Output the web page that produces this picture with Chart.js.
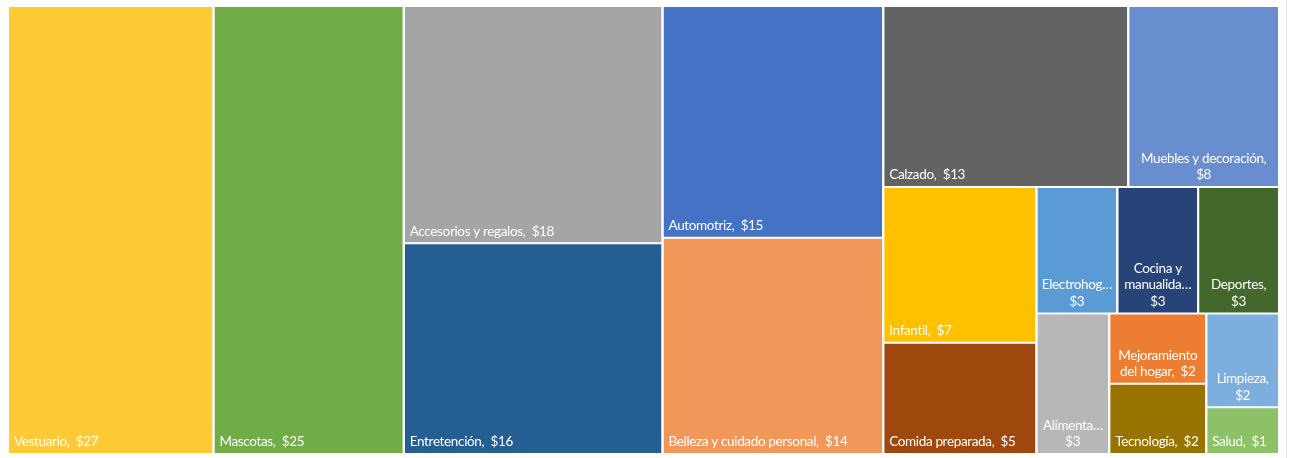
<!DOCTYPE html>
<html>
<head>
<meta charset="utf-8">
<script src="https://cdn.jsdelivr.net/npm/chart.js@4.4.1/dist/chart.umd.min.js"></script>
<style>
  html, body { margin: 0; padding: 0; background: #fff; }
  #wrap { position: relative; width: 1290px; height: 458px; }
  #frame { position: absolute; left: 1286px; top: 0; width: 1px; height: 458px; background: #e4e4e4; }
</style>
</head>
<body>
<div id="wrap">
  <canvas id="treemap"></canvas>
  <div id="frame"></div>
</div>
<script>
// categories in the order Excel laid them out (largest first)
const categories = ['Vestuario', 'Mascotas', 'Accesorios y regalos', 'Entretención', 'Automotriz',
  'Belleza y cuidado personal', 'Calzado', 'Muebles y decoración', 'Infantil', 'Comida preparada',
  'Electrohogar', 'Cocina y manualidades', 'Deportes', 'Alimentación', 'Mejoramiento del hogar',
  'Tecnología', 'Limpieza', 'Salud'];
const values = [27, 25, 18, 16, 15, 14, 13, 8, 7, 5, 3, 3, 3, 3, 2, 2, 2, 1];
const colors = ['#FFCA33', '#70AD47', '#A5A5A5', '#255E91', '#4472C4', '#F1975A', '#636363', '#698ED0',
  '#FFC000', '#9E480E', '#5B9BD5', '#264478', '#43682B', '#B7B7B7', '#ED7D31', '#997300', '#7CAFDD', '#8CC168'];

const W = 1271, H = 448;   // plot units (1 unit = 1 px)
const GAP = 1;
const FONT = '13.5px Lato';

// strip layout: fill a strip along the short side while the smallest cell stays reasonably square
function layoutCells(vals, x, y, w, h) {
  const cells = [];
  let i = 0;
  while (i < vals.length) {
    const rest = vals.slice(i).reduce((a, b) => a + b, 0);
    const unit = (w * h) / rest;
    const vertical = h <= w;
    const side = vertical ? h : w;
    let j = i + 1;
    while (j < vals.length) {
      const part = vals.slice(i, j + 1);
      const s = part.reduce((a, b) => a + b, 0);
      const thick = s * unit / side;
      const minLen = side * Math.min(...part) / s;
      if (minLen / thick < 0.6) break;
      j++;
    }
    const part = vals.slice(i, j);
    const s = part.reduce((a, b) => a + b, 0);
    const thick = s * unit / side;
    let pos = 0;
    part.forEach((v, k) => {
      const len = side * v / s;
      if (vertical) cells.push({ idx: i + k, x0: x, x1: x + thick, y0: y + pos, y1: y + pos + len });
      else cells.push({ idx: i + k, x0: x + pos, x1: x + pos + len, y0: y, y1: y + thick });
      pos += len;
    });
    if (vertical) { x += thick; w -= thick; } else { y += thick; h -= thick; }
    i = j;
  }
  return cells;
}

const cells = layoutCells(values, 0, 0, W, H);

const datasets = cells.map(c => ({
  label: categories[c.idx],
  data: [{ x: c.x0 + GAP, y: c.y0 + GAP }, { x: c.x1 - GAP, y: c.y0 + GAP }],
  fill: { value: c.y1 - GAP },
  backgroundColor: colors[c.idx],
  borderColor: 'transparent',
  borderWidth: 0,
  pointRadius: 0,
  tension: 0,
}));

function truncate(ctx, word, maxW) {
  let w = word;
  while (w.length > 1 && ctx.measureText(w + '…').width > maxW) w = w.slice(0, -1);
  return w + '…';
}

function wrapLabel(ctx, name, val, maxW) {
  const full = name + ',  $' + val;
  if (ctx.measureText(full).width <= maxW) return { lines: [full], single: true };
  const words = (name + ',').split(' ').concat(['$' + val]);
  const lines = [];
  let cur = '';
  words.forEach((word, k) => {
    const sep = k === words.length - 1 ? '  ' : ' ';
    let wd = word;
    if (ctx.measureText(wd).width > maxW) wd = truncate(ctx, wd, maxW);
    const t = cur ? cur + sep + wd : wd;
    if (ctx.measureText(t).width <= maxW) cur = t;
    else { if (cur) lines.push(cur); cur = wd; }
  });
  if (cur) lines.push(cur);
  return { lines, single: false };
}

const labelPlugin = {
  id: 'cellLabels',
  afterDatasetsDraw(chart) {
    const { ctx, scales: { x, y } } = chart;
    ctx.save();
    ctx.font = FONT;
    ctx.letterSpacing = '-0.35px';
    ctx.fillStyle = '#ffffff';
    ctx.textBaseline = 'middle';
    const PAD = 5, LH = 16.5;
    cells.forEach(c => {
      const left = x.getPixelForValue(c.x0 + GAP), right = x.getPixelForValue(c.x1 - GAP);
      const bottom = y.getPixelForValue(c.y1 - GAP);
      const lab = wrapLabel(ctx, categories[c.idx], values[c.idx], right - left - 8);
      const n = lab.lines.length;
      lab.lines.forEach((ln, k) => {
        const cy = bottom - 11 - (n - 1 - k) * LH;
        if (lab.single) { ctx.textAlign = 'left'; ctx.fillText(ln, left + PAD, cy); }
        else { ctx.textAlign = 'center'; ctx.fillText(ln, (left + right) / 2, cy); }
      });
    });
    ctx.restore();
  }
};

new Chart(document.getElementById('treemap'), {
  type: 'line',
  data: { datasets },
  options: {
    responsive: true,
    maintainAspectRatio: false,
    animation: false,
    layout: { padding: { left: 8, right: 11, top: 6, bottom: 4 } },
    scales: {
      x: { type: 'linear', min: 0, max: W, display: false },
      y: { type: 'linear', min: 0, max: H, reverse: true, display: false },
    },
    plugins: { legend: { display: false }, tooltip: { enabled: false } },
  },
  plugins: [labelPlugin],
});
</script>
</body>
</html>
